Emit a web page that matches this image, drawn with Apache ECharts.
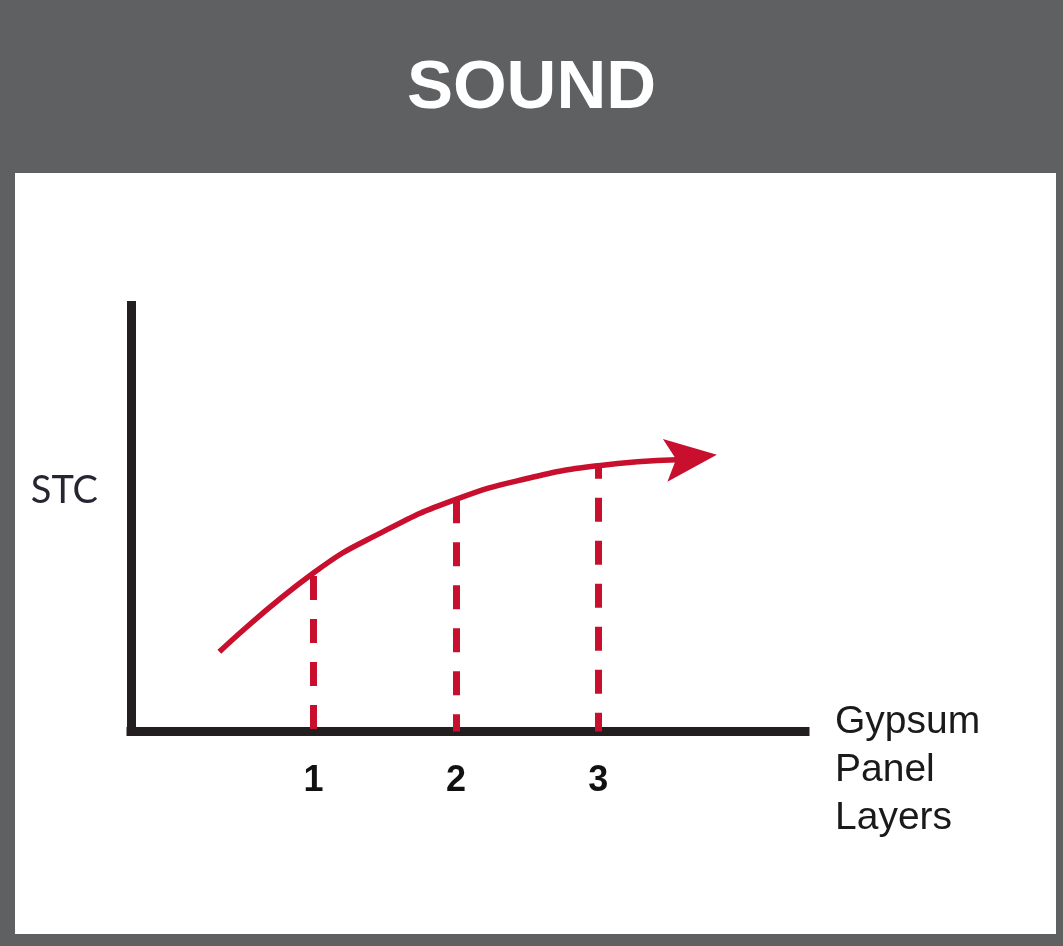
<!DOCTYPE html>
<html>
<head>
<meta charset="utf-8">
<script src="https://cdn.jsdelivr.net/npm/echarts@6/dist/echarts.min.js"></script>
<style>
  html, body { margin: 0; padding: 0; background: #5f6062; }
  #chart { width: 1063px; height: 946px; }
</style>
</head>
<body>
<div id="chart"></div>
<script>
// STC rises with the number of gypsum panel layers, flattening as layers are added.
const layerTicks   = [1, 2, 3];
const curveLayers  = [0.34, 1, 1.5, 2, 2.5, 3, 3.55];
const curveSTC     = [1.87, 3.72, 4.71, 5.45, 5.94, 6.24, 6.38];
const markerLayers = [1, 2, 3];
const markerSTC    = [3.72, 5.45, 6.24];
const arrowPoint   = [3.65, 6.43];

// styling
const RED = '#c8102e';
const INK = '#231f20';
const FONT = '"Liberation Sans", Arial, sans-serif';
const dashPhase = [-3, 0, 11];

const chart = echarts.init(document.getElementById('chart'), null, { renderer: 'canvas' });

const curveData = curveLayers.map((x, i) => [x, curveSTC[i]]);
const guideLines = markerLayers.map((x, i) => [
  { coord: [x, markerSTC[i]], lineStyle: { dashOffset: dashPhase[i] } },
  { coord: [x, 0] }
]);

chart.setOption({
  animation: false,
  backgroundColor: '#5f6062',
  title: {
    text: 'SOUND',
    left: 'center',
    top: 49,
    textStyle: {
      color: '#ffffff',
      fontSize: 69,
      fontWeight: 'bold',
      fontFamily: FONT
    }
  },
  graphic: [{
    type: 'rect',
    z: -100,
    silent: true,
    shape: { x: 15, y: 173, width: 1041, height: 761 },
    style: { fill: '#ffffff' }
  }],
  grid: {
    left: 131,
    right: 258,
    top: 305.5,
    bottom: 214.5,
    containLabel: false,
    outerBoundsMode: 'none'
  },
  xAxis: {
    type: 'value',
    min: -0.28,
    max: 4.45,
    name: '{gap| }\nGypsum\nPanel\nLayers',
    nameLocation: 'end',
    nameGap: 30,
    nameTextStyle: {
      color: '#1a1a1a',
      fontSize: 39,
      fontFamily: FONT,
      lineHeight: 48,
      align: 'left',
      verticalAlign: 'middle',
      rich: {
        gap: { fontSize: 10, lineHeight: 77 }
      }
    },
    axisLine: {
      show: true,
      onZero: false,
      lineStyle: { color: INK, width: 9, cap: 'square' }
    },
    axisTick: { show: false },
    splitLine: { show: false },
    axisLabel: {
      show: true,
      customValues: layerTicks,
      margin: 32,
      color: '#111111',
      fontSize: 36,
      fontWeight: 'bold',
      fontFamily: FONT
    }
  },
  yAxis: {
    type: 'value',
    min: 0,
    max: 10,
    name: 'STC',
    nameLocation: 'middle',
    nameRotate: 0,
    nameGap: 33,
    nameTextStyle: {
      color: '#262633',
      fontSize: 38,
      fontFamily: 'Lato, "Open Sans", sans-serif',
      align: 'right',
      verticalAlign: 'bottom',
      lineHeight: 56
    },
    axisLine: {
      show: true,
      onZero: false,
      lineStyle: { color: INK, width: 9, cap: 'square' }
    },
    axisTick: { show: false },
    splitLine: { show: false },
    axisLabel: { show: false }
  },
  series: [
    {
      type: 'line',
      data: curveData,
      smooth: 0.5,
      showSymbol: false,
      silent: true,
      z: 3,
      lineStyle: { color: RED, width: 5.5 },
      markLine: {
        silent: true,
        symbol: ['none', 'none'],
        label: { show: false },
        lineStyle: { color: RED, width: 7, type: [24, 19], cap: 'butt' },
        emphasis: { disabled: true },
        data: guideLines
      }
    },
    {
      type: 'scatter',
      data: [arrowPoint],
      silent: true,
      z: 4,
      symbol: 'path://M0,0 L52,21.5 L0,43 L11,21.5 Z',
      symbolSize: [52, 43],
      symbolRotate: 6,
      itemStyle: { color: RED, opacity: 1 }
    }
  ]
});
</script>
</body>
</html>
